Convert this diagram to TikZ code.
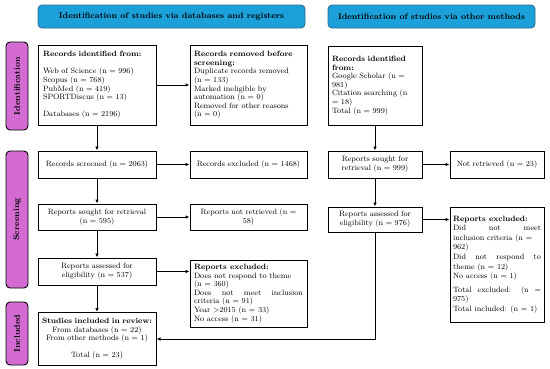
\documentclass[tikz,border=0pt]{standalone}
\usetikzlibrary{arrows.meta,positioning}
\definecolor{prbanner}{HTML}{1BA0DA}
\definecolor{prbannerline}{HTML}{2C6A8C}
\definecolor{prphase}{HTML}{D36BD3}

\begin{document}
\begin{tikzpicture}[x=1pt, y=-1pt,
    headbox/.style={draw=prbannerline, fill=prbanner, line width=0.8pt, rounded corners=4pt, minimum height=23pt, font=\fontsize{8.2}{9}\selectfont\bfseries},
    phasebox/.style={draw, fill=prphase, line width=0.9pt, rounded corners=4pt, rotate=90, minimum height=22pt, font=\fontsize{8.2}{9}\selectfont\bfseries},
    stagebox/.style={draw, line width=1pt, inner xsep=3pt, inner ysep=2pt, font=\fontsize{7.7}{8.6}\selectfont},
    flow/.style={-{Latex[length=4pt,width=3.5pt]}, line width=0.8pt}]
    \useasboundingbox (0,0) rectangle (550,368);

    % banners
    \node[headbox, minimum width=267pt] (headdb) at (171.5,16.5) {Identification of studies via databases and registers};
    \node[headbox, minimum width=207pt] (headother) at (431.5,16.5) {Identification of studies via other methods};

    % phases
    \node[phasebox, minimum width=88pt] (phid) at (17,86) {Identification};
    \node[phasebox, minimum width=137pt] (phscr) at (17,219.5) {Screening};
    \node[phasebox, minimum width=63pt] (phinc) at (17,333.5) {Included};

    % databases and registers
    \node[stagebox, inner xsep=5pt, text width=108pt, minimum height=80pt, align=left] (idA) at (97,85)
      {\textbf{Records identified from:}\\[8.6pt]
       Web of Science (n = 996)\\ Scopus (n = 768)\\ PubMed (n = 419)\\ SPORTDiscus (n = 13)\\[8.6pt]
       Databases (n = 2196)};
    \node[stagebox, inner xsep=4pt, text width=109pt, minimum height=80pt, align=left] (remA) at (248.5,85)
      {\textbf{Records removed before}\\ \textbf{screening:}\\
       Duplicate records removed\\ (n = 133)\\ Marked ineligible by\\ automation (n = 0)\\
       Removed for other reasons\\ (n = 0)};
    \node[stagebox, text width=112pt, minimum height=27pt, align=center] (scrA) at (97,164.5) {Records screened (n = 2063)};
    \node[stagebox, text width=111pt, minimum height=27pt, align=center] (exA) at (248.5,164.5) {Records excluded (n = 1468)};
    \node[stagebox, text width=112pt, minimum height=26pt, align=center] (soughtA) at (97,217) {Reports sought for retrieval\\ (n = 595)};
    \node[stagebox, text width=111pt, minimum height=26pt, align=center] (notA) at (248.5,217) {Reports not retrieved (n =\\ 58)};
    \node[stagebox, text width=112pt, minimum height=27pt, align=center] (assA) at (97,271.5) {Reports assessed for\\ eligibility (n = 537)};
    \node[stagebox, inner xsep=4pt, text width=109pt, minimum height=67pt, align=justify] (exclA) at (248.5,293.5)
      {\textbf{Reports excluded:}\newline Does not respond to theme\newline (n = 360)\newline
       Does not meet inclusion\linebreak criteria (n = 91)\newline Year \textgreater2015 (n = 33)\newline No access (n = 31)};
    \node[stagebox, text width=112pt, minimum height=53pt, align=center] (incl) at (97,339)
      {\textbf{Studies included in review:}\\ From databases (n = 22)\\ From other methods (n = 1)\\[8.6pt] Total (n = 23)};

    % other methods
    \node[stagebox, inner xsep=4pt, text width=86pt, minimum height=79pt, align=left] (idB) at (375,85.5)
      {\textbf{Records identified}\\ \textbf{from:}\\ Google Scholar (n =\\ 981)\\ Citation searching (n\\ = 18)\\ Total (n = 999)};
    \node[stagebox, text width=88pt, minimum height=27pt, align=center] (soughtB) at (375,164.5) {Reports sought for\\ retrieval (n = 999)};
    \node[stagebox, text width=88pt, minimum height=27pt, align=center] (notB) at (497,164.5) {Not retrieved (n = 23)};
    \node[stagebox, text width=88pt, minimum height=25pt, align=center] (assB) at (375,219.5) {Reports assessed for\\ eligibility (n = 976)};
    \node[stagebox, text width=88pt, minimum height=115pt, align=justify, font=\fontsize{7.7}{9.6}\selectfont] (exclB) at (497,264.5)
      {\textbf{Reports excluded:}\newline Did not meet\linebreak \mbox{inclusion criteria (n =}\newline 962)\newline
       Did not respond to\linebreak theme (n = 12)\newline No access (n = 1)\par\vspace{4pt}
       Total excluded: (n =\linebreak 975)\newline \mbox{Total included: (n = 1)}};

    \draw[flow] (idA) -- (remA);
    \draw[flow] (idA) -- (scrA);
    \draw[flow] (scrA) -- (exA);
    \draw[flow] (scrA) -- (soughtA);
    \draw[flow] (soughtA) -- (notA);
    \draw[flow] (soughtA) -- (assA);
    \draw[flow] (assA.east) -- (assA.east -| exclA.west);
    \draw[flow] (assA) -- (incl);
    \draw[flow] (idB) -- (soughtB);
    \draw[flow] (soughtB) -- (notB);
    \draw[flow] (soughtB) -- (assB);
    \draw[flow] (assB.east) -- (assB.east -| exclB.west);
    \draw[flow] (assB.south) |- (incl.east);
\end{tikzpicture}
\end{document}
